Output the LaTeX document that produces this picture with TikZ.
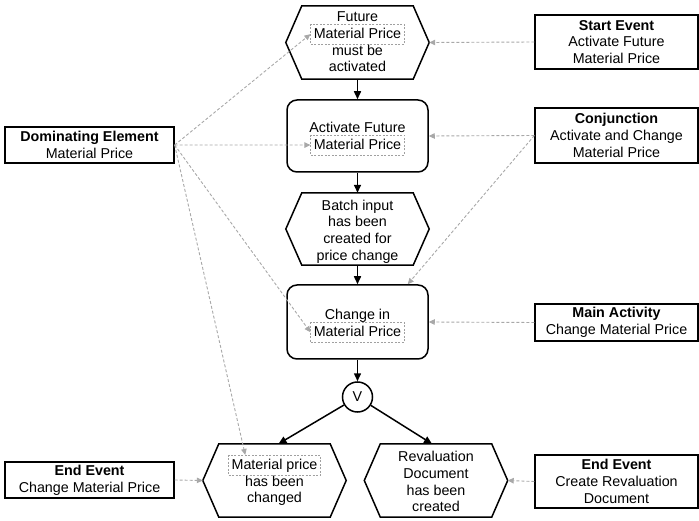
\documentclass[tikz,border=0pt]{standalone}
\usepackage{fontspec}
\setmainfont{Liberation Sans}
\usetikzlibrary{arrows.meta,calc}
\definecolor{dgray}{HTML}{A8A8A8}
\definecolor{bgray}{HTML}{A0A0A0}
\newcommand{\hexdraw}[1]{\draw[hexline] ([xshift=16pt]#1.north west) -- ([xshift=-16pt]#1.north east) -- (#1.east) -- ([xshift=-16pt]#1.south east) -- ([xshift=16pt]#1.south west) -- (#1.west) -- cycle;}
\begin{document}
\begin{tikzpicture}[x=1pt,y=-1pt,
 every node/.style={font=\fontsize{14.3}{16.8}\selectfont},
 box/.style={draw, line width=1.3pt, align=center, inner sep=0pt},
 proc/.style={draw, line width=1.5pt, rounded corners=10pt, minimum width=141pt, inner sep=0pt},
 hexa/.style={minimum width=143pt, minimum height=73pt, inner sep=0pt},
 txt/.style={inner sep=0pt, align=center},
 mbox/.style={draw=bgray, dash pattern=on 2pt off 1.5pt, line width=0.7pt, text height=11pt, text depth=2.5pt, inner xsep=3pt, inner ysep=3.2pt},
 flow/.style={line width=1.5pt, -{Triangle[length=8pt,width=7pt]}},
 link/.style={draw=dgray, line width=0.9pt, dash pattern=on 3pt off 2pt, -{Triangle[length=6pt,width=5.5pt,fill=dgray]}},
 hexline/.style={line width=1.5pt, line join=miter}]
\useasboundingbox (0,0) rectangle (699,521);

% main column shapes
\node[hexa] (h1) at (357.5,42.5) {};
\hexdraw{h1}
\node[proc, minimum height=72pt] (b2) at (357.5,136) {};
\node[hexa, minimum height=72pt] (h3) at (357.5,229) {};
\hexdraw{h3}
\node[proc, minimum height=74pt] (b4) at (357.5,322) {};
\node[draw, circle, line width=1.5pt, minimum size=30pt, inner sep=0pt] (circ) at (357.5,397) {V};
\node[hexa] (h5) at (274.5,480.5) {};
\hexdraw{h5}
\node[hexa] (h6) at (436,480.5) {};
\hexdraw{h6}

% texts in main column
\node[txt, anchor=base] (h1a) at (357.5,21.6) {Future};
\node[mbox, anchor=base] (m1) at (357.5,38.4) {Material Price};
\node[txt, anchor=base] (h1c) at (357.5,55.2) {must be};
\node[txt, anchor=base] (h1d) at (357.5,72) {activated};

\node[txt, anchor=base] (b2a) at (357.5,132.7) {Activate Future};
\node[mbox, anchor=base] (m2) at (357.5,149.3) {Material Price};

\node[txt] (h3t) at (357.5,231.6) {Batch input\\has been\\created for\\price change};

\node[txt, anchor=base] (b4a) at (357.5,319.4) {Change in};
\node[mbox, anchor=base] (m4) at (357.5,336.5) {Material Price};

\node[mbox, anchor=base] (m5) at (274.5,469.5) {Material price};
\node[txt, anchor=base] (h5b) at (274.5,486.2) {has been};
\node[txt, anchor=base] (h5c) at (274.5,502.9) {changed};

\node[txt] (h6t) at (436,481.6) {Revaluation\\Document\\has been\\created};

% side boxes
\node[box, minimum width=169pt, minimum height=36pt] (dom) at (89.5,145) {\textbf{Dominating Element}\\Material Price};
\node[box, minimum width=169pt, minimum height=36pt] (ee1) at (89.5,480) {\textbf{End Event}\\Change Material Price};
\node[box, minimum width=163pt, minimum height=54pt] (se) at (616.5,42) {\textbf{Start Event}\\Activate Future\\Material Price};
\node[box, minimum width=163pt, minimum height=55pt] (conj) at (616.5,135.5) {\textbf{Conjunction}\\Activate and Change\\Material Price};
\node[box, minimum width=163pt, minimum height=37pt] (ma) at (616.5,322.5) {\textbf{Main Activity}\\Change Material Price};
\node[box, minimum width=163pt, minimum height=53pt] (ee2) at (616.5,481.5) {\textbf{End Event}\\Create Revaluation\\Document};

% control flow
\draw[flow] (h1) -- (b2);
\draw[flow] (b2) -- (h3);
\draw[flow] (h3) -- (b4);
\draw[flow] (b4) -- (circ);
\draw[flow] (circ) -- ([xshift=4pt]h5.north);
\draw[flow] (circ) -- ([xshift=-4pt]h6.north);

% dashed links
\draw[link] (se.west) -- (h1.east);
\draw[link] (conj.west) -- (b2.east);
\draw[link] (conj.west) -- ([xshift=-21pt]b4.north east);
\draw[link] (ma.west) -- (b4.east);
\draw[link] (ee2.west) -- (h6.east);
\draw[link] (dom.east) -- (m1.west);
\draw[link] (dom.east) -- (m2.west);
\draw[link] (dom.east) -- (m4.west);
\draw[link] (dom.east) -- ([xshift=17pt]m5.north west);
\draw[link] (ee1.east) -- (h5.west);
\end{tikzpicture}
\end{document}
